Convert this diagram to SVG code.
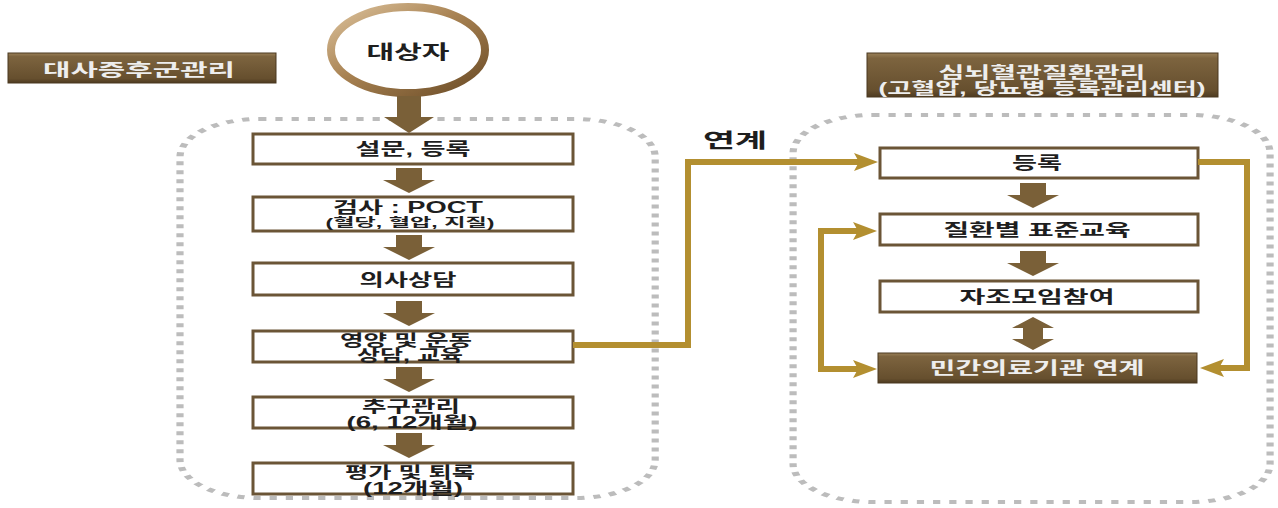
<svg xmlns="http://www.w3.org/2000/svg" width="1278" height="508" viewBox="0 0 1278 508">
<defs>
  <linearGradient id="hdr" x1="0" y1="0" x2="0" y2="1">
    <stop offset="0" stop-color="#9a8058"/>
    <stop offset="0.12" stop-color="#7d643f"/>
    <stop offset="0.85" stop-color="#664f2e"/>
    <stop offset="1" stop-color="#4e3b21"/>
  </linearGradient>
  <linearGradient id="ring" x1="0" y1="0" x2="1" y2="1">
    <stop offset="0" stop-color="#dcc29c"/>
    <stop offset="0.45" stop-color="#a88252"/>
    <stop offset="1" stop-color="#6a4b26"/>
  </linearGradient>
  <marker id="ah" markerUnits="userSpaceOnUse" markerWidth="24" markerHeight="20" refX="8" refY="10" orient="auto-start-reverse" viewBox="0 0 24 20">
    <path d="M0 1 L24 10 L0 19 L5 10 Z" fill="#b38f30"/>
  </marker>
  <path id="dn" d="M-13 0 H13 V12 H26 L0 25 L-26 12 H-13 Z"/>
</defs>
<style>
  .box { fill: #ffffff; stroke: #6b5536; stroke-width: 3; }
  .hbox { fill: url(#hdr); stroke: #4a3820; stroke-width: 1; }
  .arr { fill: #7a6038; }
  .dots { fill: none; stroke: #bcbcbc; stroke-width: 4; stroke-dasharray: 4 5; }
  .conn { fill: none; stroke: #b38f30; stroke-width: 6; stroke-linejoin: miter; }
  .t { font-family: "Liberation Sans", "Noto Sans CJK KR", sans-serif; font-weight: bold; text-anchor: middle; fill: #1e1e1e; }
  .w { fill: #eeeeee; }
</style>

<!-- dotted regions (drawn in horizontally compressed space so dashes stretch) -->
<g id="regions" transform="scale(1.8,1)">
  <rect class="dots" x="100" y="119" width="264" height="379" rx="44" ry="38"/>
  <rect class="dots" x="440.6" y="115" width="265" height="387" rx="44" ry="38"/>
</g>

<!-- headers -->
<g id="hdr-left">
  <rect class="hbox" x="8" y="53" width="268" height="30"/>
  <text class="t w" x="139" y="76" font-size="17" textLength="192" lengthAdjust="spacingAndGlyphs">대사증후군관리</text>
</g>
<g id="hdr-right">
  <rect class="hbox" x="867" y="53" width="351" height="44"/>
  <text class="t w" x="1042" y="78" font-size="16" textLength="207" lengthAdjust="spacingAndGlyphs">심뇌혈관질환관리</text>
  <text class="t w" x="1042" y="94" font-size="16" textLength="327" lengthAdjust="spacingAndGlyphs">(고혈압, 당뇨병 등록관리센터)</text>
</g>

<!-- start node -->
<g id="n-start">
  <ellipse cx="408" cy="50" rx="77" ry="43" fill="#ffffff" stroke="url(#ring)" stroke-width="8"/>
  <text class="t" x="408" y="59" font-size="19" textLength="83" lengthAdjust="spacingAndGlyphs">대상자</text>
</g>

<!-- left flow boxes -->
<g id="n-survey">
  <rect class="box" x="253" y="134" width="320" height="30"/>
  <text class="t" x="413" y="155" font-size="17" textLength="115" lengthAdjust="spacingAndGlyphs">설문, 등록</text>
</g>
<g id="n-test">
  <rect class="box" x="253" y="197" width="320" height="34"/>
  <text class="t" x="408" y="213" font-size="16" textLength="150" lengthAdjust="spacingAndGlyphs">검사 : POCT</text>
  <text class="t" x="410" y="227" font-size="12" textLength="169" lengthAdjust="spacingAndGlyphs">(혈당, 혈압, 지질)</text>
</g>
<g id="n-doctor">
  <rect class="box" x="253" y="263" width="320" height="32"/>
  <text class="t" x="408" y="286" font-size="17" textLength="97" lengthAdjust="spacingAndGlyphs">의사상담</text>
</g>
<g id="n-nutrition">
  <rect class="box" x="253" y="331" width="320" height="31"/>
  <text class="t" x="406" y="346" font-size="16" textLength="132" lengthAdjust="spacingAndGlyphs">영양 및 운동</text>
  <text class="t" x="410" y="361" font-size="16" textLength="106" lengthAdjust="spacingAndGlyphs">상담, 교육</text>
</g>
<g id="n-followup">
  <rect class="box" x="253" y="397" width="320" height="31"/>
  <text class="t" x="411" y="412" font-size="16" textLength="98" lengthAdjust="spacingAndGlyphs">추구관리</text>
  <text class="t" x="412" y="428" font-size="16" textLength="131" lengthAdjust="spacingAndGlyphs">(6, 12개월)</text>
</g>
<g id="n-eval">
  <rect class="box" x="253" y="463" width="320" height="31"/>
  <text class="t" x="410" y="478" font-size="16" textLength="130" lengthAdjust="spacingAndGlyphs">평가 및 퇴록</text>
  <text class="t" x="413" y="494" font-size="16" textLength="100" lengthAdjust="spacingAndGlyphs">(12개월)</text>
</g>

<!-- right flow boxes -->
<g id="n-register">
  <rect class="box" x="880" y="148" width="318" height="30"/>
  <text class="t" x="1037" y="169" font-size="17" textLength="50" lengthAdjust="spacingAndGlyphs">등록</text>
</g>
<g id="n-education">
  <rect class="box" x="880" y="214" width="318" height="31"/>
  <text class="t" x="1037" y="236" font-size="17" textLength="187" lengthAdjust="spacingAndGlyphs">질환별 표준교육</text>
</g>
<g id="n-selfhelp">
  <rect class="box" x="880" y="281" width="318" height="31"/>
  <text class="t" x="1037" y="303" font-size="17" textLength="155" lengthAdjust="spacingAndGlyphs">자조모임참여</text>
</g>
<g id="n-private">
  <rect class="hbox" x="878" y="353" width="319" height="30"/>
  <text class="t w" x="1037" y="374" font-size="17" textLength="215" lengthAdjust="spacingAndGlyphs">민간의료기관 연계</text>
</g>

<!-- connectors -->
<g id="connectors">
  <path class="arr" d="M397 96 H421 V117 H434 L409 133 L384 117 H397 Z"/>
  <use href="#dn" class="arr" x="409" y="168"/>
  <use href="#dn" class="arr" x="409" y="235"/>
  <use href="#dn" class="arr" x="409" y="301"/>
  <use href="#dn" class="arr" x="409" y="367"/>
  <use href="#dn" class="arr" x="409" y="433"/>
  <use href="#dn" class="arr" x="1033" y="183"/>
  <use href="#dn" class="arr" x="1033" y="251"/>
  <path class="arr" d="M1033 317 L1054 328 H1043 V339 H1054 L1033 350 L1012 339 H1023 V328 H1012 Z"/>
  <path class="conn" d="M573 345 H688 V162 H862" marker-end="url(#ah)"/>
  <path class="conn" d="M1198 162 H1247 V368 H1216" marker-end="url(#ah)"/>
  <path class="conn" d="M861 231 H821 V369 H861" marker-start="url(#ah)" marker-end="url(#ah)"/>
  <text class="t" x="735" y="148" font-size="20" textLength="64" lengthAdjust="spacingAndGlyphs">연계</text>
</g>
</svg>
